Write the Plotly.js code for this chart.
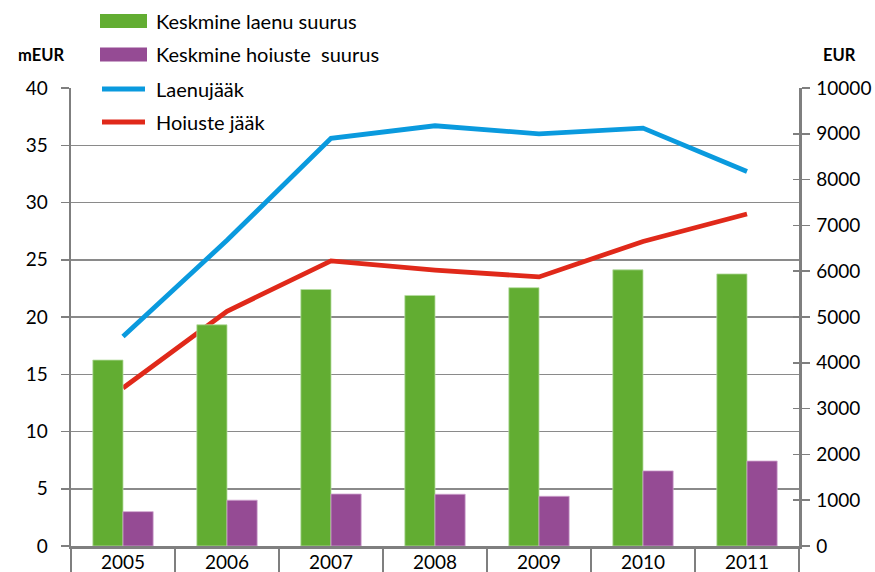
<!DOCTYPE html>
<html>
<head>
<meta charset="utf-8">
<script src="https://cdn.plot.ly/plotly-3.0.1.min.js"></script>
<style>html,body{margin:0;padding:0;background:#fff;}#chart{width:875px;height:572px;}</style>
</head>
<body>
<div id="chart"></div>
<script>
// ---- data ----
const years = ['2005', '2006', '2007', '2008', '2009', '2010', '2011'];
const avgLoanSize = [4060, 4830, 5600, 5470, 5640, 6030, 5940];      // EUR (right axis)
const avgDepositSize = [750, 1000, 1135, 1130, 1085, 1640, 1855];     // EUR (right axis)
const loanBalance = [18.3, 26.7, 35.6, 36.7, 36.0, 36.5, 32.7];       // mEUR (left axis)
const depositBalance = [13.8, 20.5, 24.9, 24.1, 23.5, 26.6, 29.0];    // mEUR (left axis)
const seriesNames = ['Keskmine laenu suurus', 'Keskmine hoiuste  suurus', 'Laenujääk', 'Hoiuste jääk'];
const leftTitle = 'mEUR';
const rightTitle = 'EUR';

const colors = ['#62ad32', '#954b94', '#0a9ade', '#e0291a'];
const FONT = 'Lato, "Open Sans", sans-serif';
const AX = '#7f7f7f';

// plot area in pixels
const W = 875, H = 572, L = 71, R = 799, T = 88, B = 546;
const px = x => (x - L) / (R - L);
const py = y => (B - y) / (B - T);

const traces = [
  {type: 'bar', name: seriesNames[0], x: years, y: avgLoanSize, yaxis: 'y2',
   marker: {color: colors[0], line: {color: '#b5dca0', width: 0.8}}, showlegend: false, hoverinfo: 'x+y'},
  {type: 'bar', name: seriesNames[1], x: years, y: avgDepositSize, yaxis: 'y2',
   marker: {color: colors[1], line: {color: '#cfa3ce', width: 0.8}}, showlegend: false, hoverinfo: 'x+y'},
  {type: 'scatter', mode: 'lines', name: seriesNames[2], x: years, y: loanBalance, yaxis: 'y',
   line: {color: colors[2], width: 4.8}, showlegend: false},
  {type: 'scatter', mode: 'lines', name: seriesNames[3], x: years, y: depositBalance, yaxis: 'y',
   line: {color: colors[3], width: 4.8}, showlegend: false},
  // helper trace so the crossing-tick axis is drawn
  {type: 'scatter', mode: 'lines', x: years, y: years.map(() => null), yaxis: 'y3',
   showlegend: false, hoverinfo: 'skip'}
];

// custom legend (Excel-style swatches)
const legendRows = [21, 54.5, 89, 122];
const shapes = [
  {type: 'rect', xref: 'paper', yref: 'paper', x0: px(86), x1: px(378), y0: py(100), y1: py(0),
   fillcolor: '#ffffff', line: {width: 0}, layer: 'above'},
  {type: 'rect', xref: 'paper', yref: 'paper', x0: px(100), x1: px(147), y0: py(legendRows[0] + 7), y1: py(legendRows[0] - 7),
   fillcolor: colors[0], line: {width: 0}, layer: 'above'},
  {type: 'rect', xref: 'paper', yref: 'paper', x0: px(100), x1: px(147), y0: py(legendRows[1] + 7), y1: py(legendRows[1] - 7),
   fillcolor: colors[1], line: {width: 0}, layer: 'above'},
  {type: 'line', xref: 'paper', yref: 'paper', x0: px(102), x1: px(145), y0: py(legendRows[2]), y1: py(legendRows[2]),
   line: {color: colors[2], width: 4.8}, layer: 'above'},
  {type: 'line', xref: 'paper', yref: 'paper', x0: px(102), x1: px(145), y0: py(legendRows[3]), y1: py(legendRows[3]),
   line: {color: colors[3], width: 4.8}, layer: 'above'}
];
const annotations = seriesNames.map((n, i) => ({
  text: n, xref: 'paper', yref: 'paper', x: px(154), y: py(legendRows[i]),
  xanchor: 'left', yanchor: 'middle', showarrow: false,
  font: {family: FONT, size: 20, color: '#000'}
}));
annotations.push(
  {text: '<b>' + leftTitle + '</b>', xref: 'paper', yref: 'paper', x: px(41), y: py(55),
   xanchor: 'center', yanchor: 'middle', showarrow: false, font: {family: FONT, size: 16.5, color: '#000'}},
  {text: '<b>' + rightTitle + '</b>', xref: 'paper', yref: 'paper', x: px(839), y: py(55),
   xanchor: 'center', yanchor: 'middle', showarrow: false, font: {family: FONT, size: 16.5, color: '#000'}}
);

const layout = {
  width: W, height: H,
  margin: {l: L, r: W - R, t: T, b: H - B, pad: 0},
  paper_bgcolor: '#fff', plot_bgcolor: '#fff',
  font: {family: FONT, size: 19, color: '#000'},
  barmode: 'group', bargap: 0.42, bargroupgap: 0,
  showlegend: false,
  xaxis: {type: 'category', range: [-0.5, 6.5], tickson: 'boundaries', ticks: 'outside', ticklen: 26,
          tickwidth: 1.5, tickcolor: AX, showline: true, linecolor: AX, linewidth: 2.5, showgrid: false,
          tickfont: {family: FONT, size: 19}, ticklabelstandoff: -2, fixedrange: true},
  yaxis: {range: [0, 40], dtick: 5, showgrid: true, gridcolor: '#8a8a8a', gridwidth: 1.5, zeroline: false,
          showline: true, linecolor: AX, linewidth: 2.5, ticks: 'outside', ticklen: 8, tickwidth: 1.5,
          tickcolor: AX, tickfont: {family: FONT, size: 19}, ticklabelstandoff: 9, fixedrange: true},
  yaxis2: {overlaying: 'y', side: 'right', range: [0, 10000], dtick: 1000, tickformat: 'd', showgrid: false, zeroline: false,
           showline: true, linecolor: AX, linewidth: 2.5, ticks: 'outside', ticklen: 8, tickwidth: 1.5,
           tickcolor: AX, tickfont: {family: FONT, size: 19}, ticklabelstandoff: 3, fixedrange: true},
  yaxis3: {overlaying: 'y', side: 'right', range: [0, 10000], dtick: 1000, showgrid: false, zeroline: false,
           showline: false, ticks: 'inside', ticklen: 6, tickwidth: 1.5, tickcolor: AX,
           showticklabels: false, fixedrange: true},
  shapes: shapes,
  annotations: annotations
};

Plotly.newPlot('chart', traces, layout, {displayModeBar: false, staticPlot: true});
</script>
</body>
</html>
